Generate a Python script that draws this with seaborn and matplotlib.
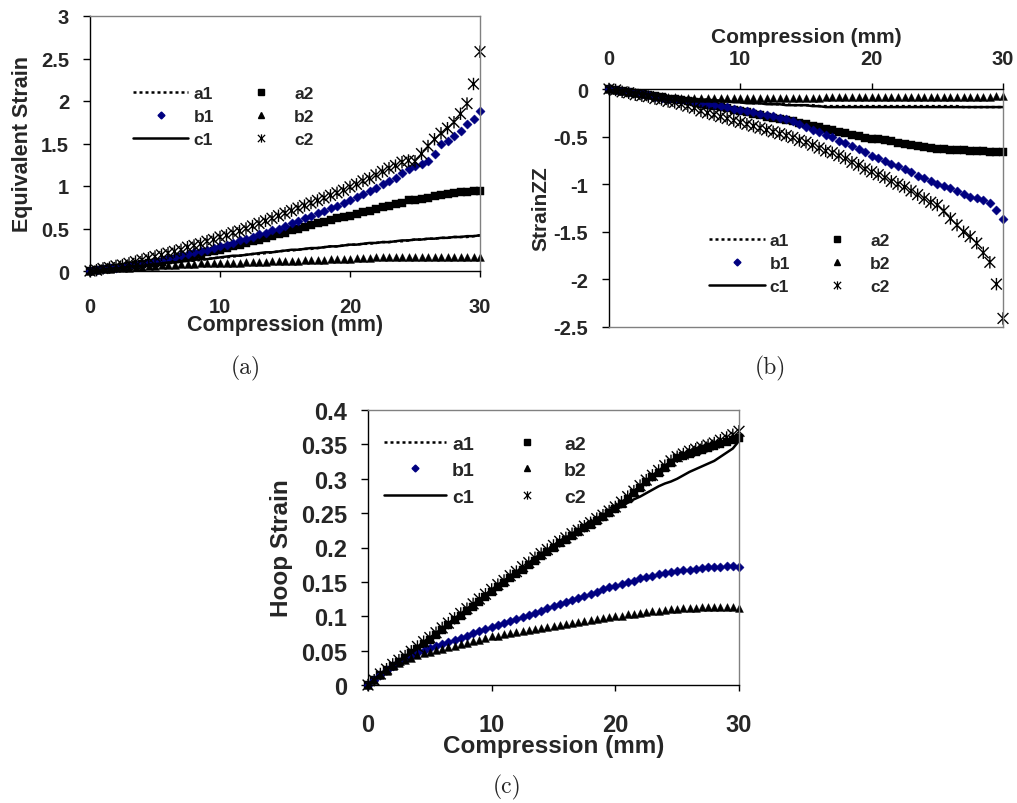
import numpy as np
import pandas as pd
import matplotlib
matplotlib.use("Agg")
import matplotlib.pyplot as plt
from matplotlib.lines import Line2D
from matplotlib.path import Path
from matplotlib.font_manager import FontProperties
import seaborn as sns

# ---------------- data ----------------
compression = np.arange(0, 30.5, 0.5)   # mm, sampling positions 0..30

# (a) Equivalent strain
eq_a1 = [0.00,0.01,0.02,0.02,0.03,0.04,0.05,0.05,0.06,0.07,0.08,
         0.08,0.09,0.10,0.11,0.12,0.12,0.13,0.14,0.15,0.16,
         0.16,0.17,0.18,0.19,0.20,0.20,0.21,0.22,0.23,0.24,
         0.24,0.25,0.26,0.26,0.27,0.28,0.29,0.29,0.30,0.31,
         0.31,0.32,0.32,0.33,0.34,0.34,0.35,0.35,0.36,0.37,
         0.37,0.38,0.38,0.39,0.39,0.40,0.40,0.40,0.41,0.42]
eq_a2 = [0.00,0.01,0.02,0.03,0.04,0.05,0.06,0.07,0.08,0.09,0.10,
         0.11,0.13,0.14,0.16,0.17,0.19,0.20,0.22,0.23,0.25,
         0.27,0.29,0.31,0.33,0.35,0.37,0.39,0.41,0.43,0.45,
         0.48,0.50,0.52,0.54,0.56,0.58,0.60,0.62,0.64,0.65,
         0.67,0.69,0.71,0.73,0.75,0.77,0.79,0.80,0.83,0.84,
         0.85,0.86,0.88,0.89,0.91,0.92,0.93,0.93,0.94,0.94]
eq_b1 = [0.00,0.01,0.02,0.03,0.04,0.05,0.06,0.07,0.08,0.10,0.12,
         0.13,0.15,0.17,0.19,0.20,0.22,0.24,0.25,0.27,0.29,
         0.31,0.33,0.36,0.38,0.40,0.43,0.45,0.48,0.50,0.53,
         0.56,0.59,0.62,0.65,0.68,0.71,0.74,0.77,0.80,0.84,
         0.87,0.91,0.94,0.98,1.02,1.06,1.10,1.15,1.20,1.24,
         1.26,1.30,1.38,1.49,1.53,1.59,1.65,1.73,1.79,1.88]
eq_b2 = [0.00,0.01,0.02,0.02,0.03,0.04,0.04,0.05,0.05,0.06,0.06,
         0.07,0.07,0.07,0.08,0.08,0.08,0.09,0.09,0.09,0.10,
         0.10,0.10,0.10,0.11,0.11,0.11,0.11,0.12,0.12,0.12,
         0.12,0.12,0.13,0.13,0.13,0.13,0.14,0.14,0.14,0.14,
         0.15,0.15,0.15,0.16,0.16,0.16,0.17,0.17,0.17,0.17,
         0.17,0.17,0.17,0.17,0.17,0.17,0.17,0.17,0.17,0.17]
eq_c1 = [0.00,0.01,0.02,0.03,0.03,0.04,0.05,0.06,0.06,0.07,0.08,
         0.09,0.10,0.10,0.11,0.12,0.13,0.14,0.14,0.15,0.16,
         0.17,0.18,0.18,0.19,0.20,0.21,0.22,0.22,0.23,0.24,
         0.25,0.25,0.26,0.27,0.27,0.28,0.29,0.29,0.30,0.31,
         0.31,0.32,0.33,0.33,0.34,0.34,0.35,0.36,0.36,0.37,
         0.37,0.38,0.38,0.39,0.39,0.40,0.40,0.41,0.41,0.42]
eq_c2 = [0.00,0.01,0.03,0.04,0.06,0.07,0.09,0.11,0.13,0.15,0.17,
         0.19,0.21,0.23,0.25,0.28,0.30,0.32,0.35,0.37,0.40,
         0.42,0.45,0.47,0.50,0.53,0.56,0.59,0.62,0.65,0.68,
         0.71,0.74,0.77,0.80,0.83,0.86,0.89,0.92,0.95,0.99,
         1.02,1.06,1.09,1.13,1.17,1.21,1.24,1.28,1.30,1.29,
         1.38,1.47,1.55,1.62,1.68,1.75,1.85,1.97,2.20,2.58]

# (b) StrainZZ
zz_a1 = [0.00,-0.01,-0.02,-0.03,-0.04,-0.05,-0.05,-0.06,-0.07,-0.08,-0.08,
         -0.09,-0.10,-0.10,-0.11,-0.11,-0.12,-0.12,-0.13,-0.13,-0.14,
         -0.14,-0.15,-0.15,-0.15,-0.16,-0.16,-0.16,-0.17,-0.17,-0.17,
         -0.17,-0.18,-0.18,-0.18,-0.18,-0.18,-0.18,-0.18,-0.18,-0.18,
         -0.18,-0.18,-0.18,-0.18,-0.18,-0.18,-0.18,-0.18,-0.18,-0.18,
         -0.18,-0.18,-0.18,-0.19,-0.19,-0.19,-0.19,-0.19,-0.19,-0.19]
zz_a2 = [0.00,-0.01,-0.02,-0.03,-0.04,-0.05,-0.06,-0.07,-0.08,-0.10,-0.11,
         -0.12,-0.13,-0.14,-0.16,-0.17,-0.18,-0.19,-0.20,-0.22,-0.23,
         -0.24,-0.26,-0.27,-0.29,-0.30,-0.31,-0.33,-0.34,-0.36,-0.37,
         -0.39,-0.40,-0.42,-0.43,-0.45,-0.46,-0.48,-0.49,-0.51,-0.52,
         -0.53,-0.54,-0.55,-0.57,-0.58,-0.59,-0.60,-0.61,-0.62,-0.63,
         -0.63,-0.64,-0.64,-0.64,-0.65,-0.65,-0.65,-0.66,-0.66,-0.66]
zz_b1 = [0.00,-0.01,-0.02,-0.03,-0.04,-0.05,-0.06,-0.08,-0.09,-0.10,-0.11,
         -0.12,-0.13,-0.14,-0.15,-0.16,-0.17,-0.18,-0.19,-0.21,-0.22,
         -0.23,-0.24,-0.26,-0.27,-0.28,-0.30,-0.32,-0.34,-0.37,-0.40,
         -0.43,-0.45,-0.48,-0.50,-0.55,-0.57,-0.60,-0.63,-0.66,-0.70,
         -0.73,-0.76,-0.79,-0.81,-0.84,-0.87,-0.91,-0.94,-0.97,-1.00,
         -1.02,-1.04,-1.07,-1.10,-1.13,-1.15,-1.17,-1.20,-1.27,-1.37]
zz_b2 = [0.00,-0.01,-0.02,-0.03,-0.04,-0.05,-0.06,-0.07,-0.07,-0.08,-0.08,
         -0.09,-0.09,-0.09,-0.09,-0.09,-0.09,-0.09,-0.09,-0.09,-0.09,
         -0.09,-0.09,-0.09,-0.09,-0.09,-0.09,-0.09,-0.09,-0.09,-0.09,
         -0.09,-0.09,-0.08,-0.08,-0.08,-0.08,-0.08,-0.08,-0.08,-0.08,
         -0.08,-0.08,-0.08,-0.08,-0.08,-0.08,-0.08,-0.08,-0.08,-0.08,
         -0.08,-0.08,-0.08,-0.08,-0.08,-0.08,-0.08,-0.08,-0.07,-0.07]
zz_c1 = [0.00,-0.01,-0.02,-0.03,-0.04,-0.05,-0.06,-0.06,-0.07,-0.08,-0.09,
         -0.10,-0.10,-0.11,-0.11,-0.12,-0.12,-0.13,-0.13,-0.14,-0.14,
         -0.15,-0.15,-0.15,-0.16,-0.16,-0.16,-0.17,-0.17,-0.17,-0.17,
         -0.18,-0.18,-0.19,-0.19,-0.19,-0.19,-0.19,-0.19,-0.19,-0.19,
         -0.19,-0.19,-0.19,-0.19,-0.19,-0.19,-0.19,-0.19,-0.19,-0.19,
         -0.19,-0.19,-0.19,-0.19,-0.19,-0.19,-0.19,-0.19,-0.19,-0.19]
zz_c2 = [0.00,-0.01,-0.03,-0.04,-0.06,-0.07,-0.08,-0.10,-0.11,-0.13,-0.14,
         -0.16,-0.18,-0.20,-0.23,-0.25,-0.27,-0.29,-0.31,-0.33,-0.35,
         -0.37,-0.39,-0.41,-0.43,-0.45,-0.47,-0.49,-0.51,-0.54,-0.56,
         -0.59,-0.62,-0.65,-0.67,-0.70,-0.73,-0.77,-0.80,-0.84,-0.87,
         -0.90,-0.93,-0.97,-1.00,-1.03,-1.07,-1.11,-1.15,-1.19,-1.22,
         -1.28,-1.36,-1.43,-1.50,-1.55,-1.62,-1.72,-1.82,-2.05,-2.41]

# (c) Hoop strain
hp_a1 = [0.000,0.008,0.016,0.023,0.029,0.035,0.041,0.048,0.054,0.061,0.068,
         0.075,0.082,0.089,0.096,0.103,0.110,0.117,0.124,0.131,0.138,
         0.145,0.151,0.158,0.164,0.171,0.177,0.184,0.190,0.197,0.203,
         0.209,0.215,0.221,0.227,0.233,0.239,0.245,0.250,0.256,0.262,
         0.268,0.275,0.282,0.289,0.296,0.304,0.311,0.318,0.325,0.331,
         0.334,0.337,0.340,0.343,0.346,0.349,0.352,0.355,0.358,0.361]
hp_a2 = [0.000,0.008,0.015,0.022,0.028,0.034,0.040,0.046,0.053,0.060,0.066,
         0.073,0.080,0.087,0.094,0.101,0.108,0.114,0.121,0.128,0.135,
         0.142,0.148,0.155,0.161,0.168,0.174,0.181,0.187,0.194,0.200,
         0.206,0.211,0.217,0.222,0.228,0.233,0.239,0.244,0.250,0.256,
         0.263,0.271,0.279,0.287,0.295,0.302,0.309,0.316,0.323,0.330,
         0.333,0.336,0.339,0.342,0.345,0.348,0.351,0.354,0.357,0.360]
hp_b1 = [0.000,0.008,0.015,0.022,0.028,0.033,0.038,0.042,0.046,0.050,0.054,
         0.057,0.060,0.063,0.066,0.069,0.072,0.075,0.078,0.081,0.084,
         0.087,0.090,0.093,0.096,0.099,0.102,0.105,0.108,0.112,0.115,
         0.118,0.121,0.124,0.127,0.130,0.133,0.136,0.139,0.142,0.144,
         0.147,0.150,0.152,0.155,0.157,0.159,0.161,0.163,0.165,0.166,
         0.167,0.168,0.169,0.170,0.171,0.172,0.172,0.173,0.173,0.172]
hp_b2 = [0.000,0.008,0.015,0.021,0.027,0.032,0.036,0.040,0.043,0.046,0.048,
         0.051,0.053,0.055,0.057,0.059,0.061,0.064,0.066,0.068,0.071,
         0.072,0.074,0.075,0.077,0.078,0.080,0.081,0.083,0.084,0.086,
         0.087,0.089,0.090,0.092,0.093,0.094,0.096,0.097,0.099,0.100,
         0.101,0.103,0.104,0.105,0.106,0.107,0.108,0.109,0.110,0.111,
         0.112,0.112,0.112,0.113,0.113,0.113,0.113,0.113,0.113,0.112]
hp_c1 = [0.000,0.008,0.015,0.022,0.028,0.034,0.040,0.046,0.053,0.060,0.066,
         0.073,0.080,0.087,0.094,0.101,0.108,0.114,0.121,0.128,0.135,
         0.141,0.147,0.154,0.160,0.167,0.173,0.180,0.186,0.193,0.199,
         0.205,0.210,0.216,0.221,0.227,0.232,0.238,0.243,0.249,0.254,
         0.260,0.265,0.270,0.274,0.279,0.284,0.289,0.293,0.296,0.300,
         0.305,0.310,0.314,0.318,0.322,0.326,0.332,0.338,0.344,0.355]
hp_c2 = [0.000,0.007,0.016,0.023,0.030,0.036,0.042,0.049,0.056,0.063,0.069,
         0.076,0.083,0.090,0.097,0.104,0.111,0.118,0.125,0.132,0.139,
         0.146,0.152,0.159,0.165,0.172,0.178,0.185,0.191,0.197,0.203,
         0.209,0.214,0.220,0.225,0.231,0.236,0.242,0.247,0.253,0.259,
         0.266,0.274,0.282,0.290,0.298,0.305,0.312,0.319,0.326,0.332,
         0.336,0.340,0.343,0.346,0.349,0.352,0.356,0.360,0.364,0.369]

series_names = ["a1", "a2", "b1", "b2", "c1", "c2"]
x_ticks = [0, 10, 20, 30]
x_ticklabels = ["0", "10", "20", "30"]
eq_ticks = [0, 0.5, 1, 1.5, 2, 2.5, 3]
eq_ticklabels = ["0", "0.5", "1", "1.5", "2", "2.5", "3"]
zz_ticks = [-2.5, -2, -1.5, -1, -0.5, 0]
zz_ticklabels = ["-2.5", "-2", "-1.5", "-1", "-0.5", "0"]
hp_ticks = [0, 0.05, 0.1, 0.15, 0.2, 0.25, 0.3, 0.35, 0.4]
hp_ticklabels = ["0", "0.05", "0.1", "0.15", "0.2", "0.25", "0.3", "0.35", "0.4"]

# ---------------- style ----------------
sns.set_style("white")
plt.rcParams["font.family"] = ["Liberation Sans", "DejaVu Sans"]
plt.rcParams["font.weight"] = "bold"

NAVY = "#000080"
GREY = "#808080"
STAR = Path([(-1, -1), (1, 1), (-1, 1), (1, -1), (0, -1.15), (0, 1.15)],
            [Path.MOVETO, Path.LINETO, Path.MOVETO, Path.LINETO, Path.MOVETO, Path.LINETO])

fig = plt.figure(figsize=(10.17, 8.04), dpi=100)


def draw_series(ax, data, k=1.0):
    a1, a2, b1, b2, c1, c2 = data
    sns.lineplot(x=compression, y=a1, ax=ax, color="black", linestyle=(0, (1.2, 1.2)),
                 linewidth=1.8, estimator=None, sort=False)
    sns.scatterplot(x=compression, y=a2, ax=ax, marker="s", s=30 * k, color="black",
                    edgecolor="black", linewidth=0.3)
    sns.scatterplot(x=compression, y=b1, ax=ax, marker="D", s=22 * k, color=NAVY,
                    edgecolor=NAVY, linewidth=0.3)
    sns.scatterplot(x=compression, y=b2, ax=ax, marker="^", s=32 * k, color="black",
                    edgecolor="black", linewidth=0.3)
    sns.lineplot(x=compression, y=c1, ax=ax, color="black", linestyle="-",
                 linewidth=1.8, estimator=None, sort=False)
    sns.scatterplot(x=compression, y=c2, ax=ax, marker=STAR, s=80 * k, facecolor="none",
                    edgecolor="black", linewidth=1.0)


def add_legend(ax, anchor, fs):
    h = [
        Line2D([], [], color="black", linestyle=(0, (1.2, 1.2)), linewidth=1.8),
        Line2D([], [], linestyle="none", marker="D", markersize=3.5, color=NAVY),
        Line2D([], [], color="black", linestyle="-", linewidth=1.8),
        Line2D([], [], linestyle="none", marker="s", markersize=4.5, color="black"),
        Line2D([], [], linestyle="none", marker="^", markersize=4.5, color="black"),
        Line2D([], [], linestyle="none", marker=STAR, markersize=6, markerfacecolor="none",
               markeredgecolor="black", markeredgewidth=0.9),
    ]
    labels = ["a1", "b1", "c1", "a2", "b2", "c2"]
    ax.legend(h, labels, loc="upper left", bbox_to_anchor=anchor, ncol=2, frameon=False,
              borderpad=0, borderaxespad=0, handlelength=3.2, handletextpad=0.3,
              columnspacing=1.1, labelspacing=0.45,
              prop=FontProperties(family="Liberation Sans", weight="bold", size=fs))


def style_axes(ax, fs_tick, xpad, top_x=False):
    for side in ["top", "right", "bottom", "left"]:
        ax.spines[side].set_color(GREY)
        ax.spines[side].set_linewidth(1.0)
    ax.spines["left"].set_color("black")
    if top_x:
        ax.spines["top"].set_color("black")
    else:
        ax.spines["bottom"].set_color("black")
    ax.tick_params(axis="y", direction="out", length=5, width=1, color="black",
                   labelsize=fs_tick, pad=10, left=True)
    ax.tick_params(axis="x", direction="out", length=4, width=1, color="black",
                   labelsize=fs_tick, pad=xpad)
    if top_x:
        ax.tick_params(axis="x", top=True, bottom=False, labeltop=True, labelbottom=False)
    else:
        ax.tick_params(axis="x", bottom=True)
    for t in ax.get_xticklabels() + ax.get_yticklabels():
        t.set_fontweight("bold")


def caption(x, y, text):
    fig.text(x / 1017, 1 - y / 804, text, ha="center", va="center",
             fontsize=17, family=["cmr10", "DejaVu Serif"], fontweight="normal")


# (a)
ax_a = fig.add_axes([90 / 1017, 1 - 272 / 804, 390 / 1017, 255 / 804])
draw_series(ax_a, [eq_a1, eq_a2, eq_b1, eq_b2, eq_c1, eq_c2])
ax_a.set_xlim(0, 30)
ax_a.set_ylim(0, 3)
ax_a.set_xticks(x_ticks, x_ticklabels)
ax_a.set_yticks(eq_ticks, eq_ticklabels)
style_axes(ax_a, 14.5, 14.5)
ax_a.set_xlabel("Compression (mm)", fontsize=15.5, fontweight="bold", labelpad=-1)
ax_a.set_ylabel("Equivalent Strain", fontsize=15.5, fontweight="bold", labelpad=6)
add_legend(ax_a, (0.11, 0.725), 12.5)

# (b)
ax_b = fig.add_axes([609 / 1017, 1 - 328 / 804, 394 / 1017, 238 / 804])
draw_series(ax_b, [zz_a1, zz_a2, zz_b1, zz_b2, zz_c1, zz_c2])
ax_b.set_xlim(0, 30)
ax_b.set_ylim(-2.5, 0)
ax_b.set_xticks(x_ticks, x_ticklabels)
ax_b.set_yticks(zz_ticks, zz_ticklabels)
style_axes(ax_b, 14.5, 11, top_x=True)
ax_b.xaxis.set_label_position("top")
ax_b.set_xlabel("Compression (mm)", fontsize=15, fontweight="bold", labelpad=5)
ax_b.set_ylabel("StrainZZ", fontsize=15, fontweight="bold", labelpad=2)
add_legend(ax_b, (0.254, 0.395), 12.5)

# (c)
ax_c = fig.add_axes([368 / 1017, 1 - 686 / 804, 371 / 1017, 275 / 804])
draw_series(ax_c, [hp_a1, hp_a2, hp_b1, hp_b2, hp_c1, hp_c2], k=1.0)
ax_c.set_xlim(0, 30)
ax_c.set_ylim(0, 0.4)
ax_c.set_xticks(x_ticks, x_ticklabels)
ax_c.set_yticks(hp_ticks, hp_ticklabels)
style_axes(ax_c, 17, 16)
ax_c.set_xlabel("Compression (mm)", fontsize=17.5, fontweight="bold", labelpad=-1)
ax_c.set_ylabel("Hoop Strain", fontsize=17.5, fontweight="bold", labelpad=6)
add_legend(ax_c, (0.043, 0.908), 14)

for ax in (ax_a, ax_b, ax_c):
    for coll in ax.collections:
        coll.set_clip_on(False)

caption(246, 368, "(a)")
caption(770, 368, "(b)")
caption(507, 787, "(c)")

fig.savefig("out.png", dpi=100)
